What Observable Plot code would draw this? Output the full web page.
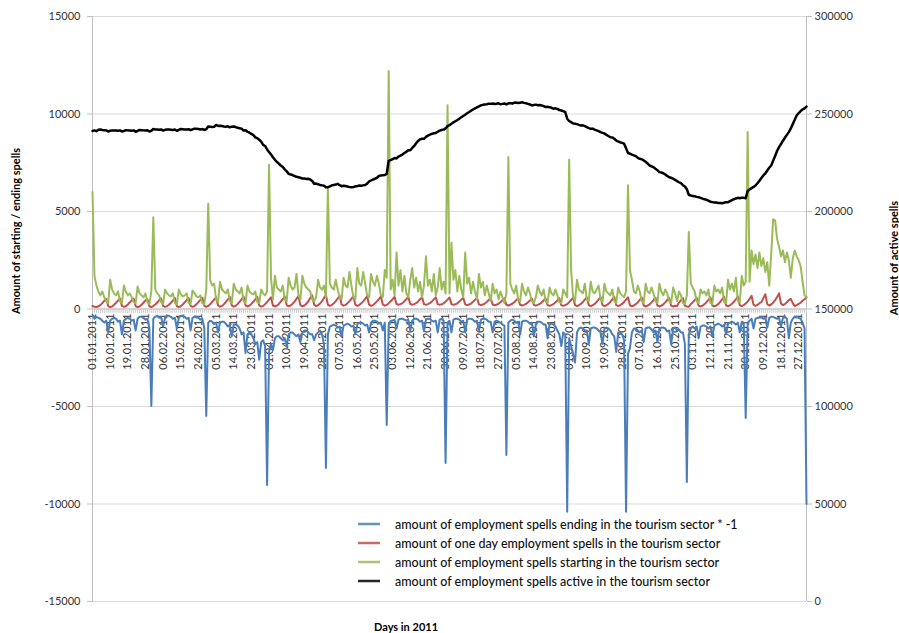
<!DOCTYPE html>
<html><head><meta charset="utf-8">
<script src="https://cdn.jsdelivr.net/npm/d3@7"></script>
<script src="https://cdn.jsdelivr.net/npm/@observablehq/plot@0.6"></script>
<style>body{margin:0;background:#fff;} #chart{position:relative;width:899px;height:633px;}</style>
</head><body><div id="chart"></div>
<script>
const dateLabels = ["01.01.2011","10.01.2011","19.01.2011","28.01.2011","06.02.2011","15.02.2011","24.02.2011","05.03.2011","14.03.2011","23.03.2011","01.04.2011","10.04.2011","19.04.2011","28.04.2011","07.05.2011","16.05.2011","25.05.2011","03.06.2011","12.06.2011","21.06.2011","30.06.2011","09.07.2011","18.07.2011","27.07.2011","05.08.2011","14.08.2011","23.08.2011","01.09.2011","10.09.2011","19.09.2011","28.09.2011","07.10.2011","16.10.2011","25.10.2011","03.11.2011","12.11.2011","21.11.2011","30.11.2011","09.12.2011","18.12.2011","27.12.2011"];
const leftTicks = [-15000,-10000,-5000,0,5000,10000,15000];
const rightTicks = [0,50000,100000,150000,200000,250000,300000];
const seriesNames = [
  "amount of employment spells ending in the tourism sector * -1",
  "amount of one day employment spells in the tourism sector",
  "amount of employment spells starting in the tourism sector",
  "amount of employment spells active in the tourism sector"];
const seriesColors = ["#4a7ebb", "#c0504d", "#9bbb59", "#000000"];

// ending spells * -1 (left axis), one value per day of 2011
const endingSpells = [
 -300,-500,-400,-450,-500,-600,-700,-600,-1200,-600,-500,-450,-500,-650,-600,-1300,-600,-500,-450,-500,-600,-550,-1100,-500,-400,-400,-450,-550,-500,-1000,-4970,
 -500,-400,-350,-450,-400,-900,-450,-350,-350,-400,-500,-450,-1000,-450,-350,-350,-400,-500,-450,-1100,-450,-400,-400,-450,-550,-500,-1000,-5490,
 -700,-600,-650,-750,-700,-1200,-700,-650,-650,-750,-900,-800,-1400,-800,-800,-850,-1000,-1300,-1200,-2250,-1300,-1200,-1300,-1500,-1800,-1700,-2600,-1700,-1600,-1900,-9030,
 -2200,-1800,-2100,-1500,-1400,-1400,-1500,-1600,-1500,-1900,-1300,-1200,-1200,-1300,-1400,-1300,-1700,-1200,-1100,-1100,-1200,-1300,-1300,-1600,-1300,-1200,-1100,-1300,-1800,-8150,
 -1300,-900,-850,-800,-850,-950,-900,-1400,-850,-800,-750,-800,-900,-850,-1300,-800,-700,-700,-750,-850,-800,-1200,-700,-600,-600,-650,-750,-700,-1100,-700,-5950,
 -800,-600,-600,-550,-1000,-550,-500,-500,-550,-600,-550,-1100,-600,-500,-500,-550,-650,-600,-1150,-550,-500,-500,-600,-650,-600,-1200,-550,-500,-600,-7900,
 -700,-600,-1200,-550,-500,-500,-550,-650,-600,-1200,-550,-500,-500,-550,-650,-600,-1150,-550,-500,-500,-550,-650,-650,-1200,-650,-600,-650,-700,-800,-850,-7490,
 -700,-600,-550,-600,-700,-650,-1300,-650,-600,-600,-650,-750,-700,-1400,-800,-650,-650,-700,-800,-800,-1500,-800,-750,-800,-900,-1100,-1300,-1900,-1200,-1300,-10400,
 -1500,-1900,-2300,-2750,-1200,-1000,-950,-1000,-1100,-1100,-1800,-1000,-950,-950,-1000,-1100,-1200,-1800,-1000,-950,-1000,-1100,-1300,-1400,-2200,-1200,-1200,-1300,-1600,-10400,
 -2300,-2000,-1200,-1000,-1000,-1100,-1200,-1100,-1700,-1000,-950,-950,-1050,-1200,-1100,-1700,-1000,-950,-950,-1000,-1150,-1100,-1800,-1000,-950,-1100,-1050,-1200,-1200,-1800,-8870,
 -1300,-1000,-900,-1000,-900,-1500,-900,-850,-850,-900,-1000,-900,-1400,-850,-800,-750,-800,-900,-800,-1300,-750,-700,-650,-700,-800,-700,-1200,-650,-700,-5590,
 -700,-600,-500,-1000,-500,-450,-450,-400,-500,-450,-950,-450,-400,-400,-450,-500,-450,-900,-450,-400,-500,-1500,-700,-500,-400,-400,-450,-500,-700,-1000,-10000];

// one day spells (left axis)
const oneDaySpells = [
 150,120,100,140,200,300,420,520,150,100,130,220,320,430,540,160,110,140,230,330,440,530,150,100,130,220,320,440,500,140,100,
 150,230,330,450,540,160,110,140,220,320,440,560,150,100,140,230,340,460,570,160,110,150,240,350,470,580,170,110,
 160,250,360,480,600,180,120,160,250,360,480,620,180,120,160,260,370,500,640,190,130,170,260,370,490,620,180,120,160,250,360,
 480,600,180,130,170,260,380,500,650,200,140,180,270,380,520,660,200,140,180,270,390,560,700,220,150,190,280,400,560,720,
 220,160,200,290,400,540,680,230,170,210,300,400,520,660,220,160,200,290,390,520,650,220,160,200,290,390,510,640,230,170,210,
 300,400,500,620,260,220,250,300,400,500,620,260,220,250,300,390,500,610,250,210,250,300,390,490,600,250,210,240,290,380,
 480,590,250,210,240,290,380,480,580,240,200,230,280,370,470,570,240,200,230,280,360,460,560,230,190,220,270,350,450,550,220,
 180,220,270,350,450,550,220,180,210,260,340,440,540,210,170,210,260,340,440,540,200,170,200,250,340,440,550,200,160,200,250,
 350,460,580,200,150,190,260,360,480,600,200,150,190,260,360,480,610,200,150,190,260,360,490,620,200,150,190,260,360,480,
 600,190,140,180,250,350,470,590,180,130,170,240,340,460,580,180,130,170,240,340,460,570,170,130,170,150,330,450,560,170,130,
 120,240,340,460,580,170,130,170,250,350,470,600,180,130,180,260,360,490,620,190,140,190,270,370,500,640,200,150,200,280,
 380,520,680,220,160,210,300,350,560,760,250,180,230,320,450,620,800,280,200,250,340,460,520,300,150,200,260,320,420,500,600];

// starting spells (left axis)
const startingSpells = [
 6000,1700,1200,900,700,900,600,400,300,1500,1000,800,700,900,400,300,1200,900,700,800,600,350,300,1150,800,700,600,800,350,250,900,
 4700,1000,800,700,350,250,1000,800,700,650,800,300,250,1000,750,650,700,800,300,250,950,800,650,600,700,300,250,1000,
 5400,1500,1200,1300,500,350,1400,1000,900,800,1000,400,300,1300,1000,900,800,1100,400,300,1200,900,800,750,900,350,300,1000,800,700,900,
 7400,1600,500,1700,1100,1000,900,1200,500,400,1600,1200,1000,1100,1800,700,500,1700,1300,1100,1000,900,500,400,600,1500,1100,1000,1200,600,
 6200,1300,1100,1000,1500,1000,600,500,1600,1200,1100,1900,1200,600,500,2100,1300,1200,1900,1300,700,600,1800,1400,1200,1700,1300,700,600,2000,1600,
 12200,1000,1500,700,2900,1200,2000,900,1700,800,600,1500,2100,1100,1600,900,1400,600,1200,2700,1200,1500,900,1800,700,1100,2100,1000,1400,800,
 10450,800,3400,1500,2000,900,1700,1000,600,2900,1300,1600,800,1400,900,500,1800,1100,1400,700,1200,800,400,1300,800,1000,500,900,600,300,800,
 7800,1300,1000,800,1200,500,400,1300,900,700,1100,800,400,300,600,1200,900,700,1000,400,300,1100,800,700,1000,700,350,300,1000,800,600,
 7650,2000,600,400,1500,1000,900,800,1300,500,400,1400,900,800,1000,1200,500,350,1300,900,800,700,1000,400,300,1100,800,700,600,900,
 6350,2000,1500,900,800,1200,900,400,300,1300,900,800,1100,800,400,300,1300,900,700,1000,800,400,300,1100,800,400,900,700,300,250,700,
 3950,1300,1100,900,400,300,1000,800,900,700,1000,300,250,1200,900,1000,800,1100,350,300,1500,1000,1300,900,1600,400,350,1700,1200,1400,
 9080,1400,3000,2300,2800,2100,2900,2200,2600,1900,2400,1200,2800,4600,4550,3600,3200,2700,3000,2400,2900,2500,1600,2600,3000,2700,2500,2200,1400,700,600];

// active spells (right axis)
const activeSpells = [
 241300,241600,241200,241900,242000,241800,241700,241600,241000,241400,241600,241500,241500,241400,241600,241000,241300,241700,241600,241500,241400,241600,240900,241300,241800,241700,241600,241500,241700,241000,241400,
 242300,242100,242000,241900,242100,241500,241900,242100,242000,241900,241800,242000,241400,241900,242300,242200,242100,242000,242200,241700,242100,242500,242400,242300,242100,242300,241800,242200,
 243600,243500,243300,243400,244400,243900,244000,243800,243600,243500,243700,243200,243500,243600,243300,242900,242700,242500,241500,241700,240900,240400,239800,239200,238000,237600,236800,235800,234200,233600,231800,
 230500,229300,227800,226500,225500,224500,223600,222800,221600,220600,219300,219000,218700,218200,217800,217600,217300,216900,216900,216700,216800,216400,215600,214200,214300,214000,213600,213400,213200,212500,
 212500,212800,213400,213600,213800,214200,213500,213000,213200,213100,212800,212500,212400,212500,212900,213000,213300,213200,213400,213600,214300,215400,215900,216400,216800,217300,218200,218500,218600,218700,219300,
 226000,226400,226900,227400,227200,228200,228700,229200,230000,230600,231400,231400,232600,233600,235000,236200,237000,237300,237300,238300,238900,239400,239800,240100,240300,240900,241500,241800,242000,242600,
 243800,244300,245000,245700,246300,246900,247600,248300,249000,249600,250400,251000,251700,252300,252900,253400,253900,254400,254700,254900,255000,255300,255200,255400,255100,255300,255500,255000,255200,255400,254900,
 255400,255600,255300,255800,255900,255600,255800,256000,255700,255500,255200,254900,254400,254600,254800,254500,254600,254400,254000,253600,253700,253500,253200,252700,252900,252600,252000,251800,251500,251000,247600,
 246400,245800,245200,245000,244800,244400,244100,244200,243800,243300,242800,242400,242500,242000,241600,241200,240700,240300,240000,239300,238700,238100,238000,237300,236400,235900,235500,235200,234800,232500,
 230000,229600,229200,228800,228400,227500,227000,226800,226200,225500,224600,223600,223200,222700,221900,221200,220200,220000,219600,219000,218200,217600,217300,216800,216200,215600,215000,214500,213500,212800,211400,
 208600,208200,208000,207800,207500,207300,207000,206600,206300,206000,205600,205000,204800,204600,204600,204300,204400,204200,204500,204800,204800,205300,205800,206300,206700,207000,206800,207100,207000,206800,
 210500,211300,212000,212600,213300,214500,215800,217200,218500,219500,221000,222400,223600,226000,228500,231000,233000,234600,236300,237800,239300,240700,242600,244800,247000,249200,250500,251500,252300,252900,253800];

// secondary axis: map right-axis values onto the left-axis range
const toLeft = v => (v - 150000) / 10;
const rows = (arr, f = v => v) => arr.map((v, i) => ({day: i, value: f(v)}));
const parse = d3.utcParse("%d.%m.%Y");
const dayOfYear = s => { const t = parse(s); return d3.utcDay.count(d3.utcYear(t), t); };
const labelRows = dateLabels.map(s => ({day: dayOfYear(s), text: s}));
const allDays = activeSpells.map((_, i) => i);
const lastDay = activeSpells.length - 1;

const chart = Plot.plot({
  width: 899, height: 633,
  marginLeft: 92, marginRight: 93, marginTop: 16, marginBottom: 32,
  style: {fontFamily: "Lato, 'Open Sans', sans-serif", fontSize: "11px", background: "#fff", overflow: "visible"},
  x: {type: "linear", domain: [0, lastDay], axis: null},
  y: {domain: [-15000, 15000], axis: null},
  marks: [
    Plot.gridY(leftTicks, {stroke: "#d9d9d9", strokeOpacity: 1}),
    Plot.ruleX([0, lastDay], {stroke: "#bfbfbf"}),
    Plot.axisY(leftTicks, {anchor: "left", tickSize: 5, tickPadding: 7, tickFormat: d => String(d), color: "#333", stroke: "#bfbfbf", label: null, fontSize: 11}),
    Plot.axisY(rightTicks.map(toLeft), {anchor: "right", tickSize: 5, tickPadding: 3, tickFormat: (d, i) => String(rightTicks[i]), color: "#333", stroke: "#bfbfbf", label: null, fontSize: 11}),
    Plot.ruleY([0], {stroke: "#bfbfbf"}),
    Plot.ruleX(allDays, {x: d => d, y1: 0, y2: -220, stroke: "#cccccc"}),
    Plot.text(labelRows, {x: "day", y: -230, text: "text", rotate: -90, textAnchor: "end", fill: "#333", fontSize: 11}),
    Plot.lineY(rows(endingSpells), {x: "day", y: "value", stroke: seriesColors[0], strokeWidth: 2}),
    Plot.lineY(rows(oneDaySpells), {x: "day", y: "value", stroke: seriesColors[1], strokeWidth: 2}),
    Plot.lineY(rows(startingSpells), {x: "day", y: "value", stroke: seriesColors[2], strokeWidth: 2}),
    Plot.lineY(rows(activeSpells, toLeft), {x: "day", y: "value", stroke: seriesColors[3], strokeWidth: 2.5})
  ]
});

const svg = d3.select(chart);
const addTitle = (x, y, rot, txt) => svg.append("text")
  .attr("transform", `translate(${x},${y})` + (rot ? " rotate(-90)" : ""))
  .attr("text-anchor", "middle").attr("dominant-baseline", "central")
  .style("font-weight", "bold").style("font-size", "11px").attr("fill", "#000").text(txt);
addTitle(15, 231, true, "Amount of starting / ending spells");
addTitle(893, 258, true, "Amount of active spells");
addTitle(406, 626, false, "Days in 2011");

const lg = svg.append("g");
lg.append("rect").attr("x", 350).attr("y", 513).attr("width", 396).attr("height", 83).attr("fill", "#fff");
seriesNames.forEach((name, i) => {
  const y = 524 + i * 19;
  lg.append("line").attr("x1", 358).attr("x2", 380).attr("y1", y).attr("y2", y)
    .attr("stroke", seriesColors[i]).attr("stroke-width", 2.5).attr("stroke-opacity", 0.85);
  lg.append("text").attr("x", 395).attr("y", y).attr("dominant-baseline", "central")
    .attr("text-anchor", "start")
    .style("font-size", "12.5px").style("font-weight", "500").attr("fill", "#111").text(name);
});

document.getElementById("chart").appendChild(chart);
</script>
</body></html>
